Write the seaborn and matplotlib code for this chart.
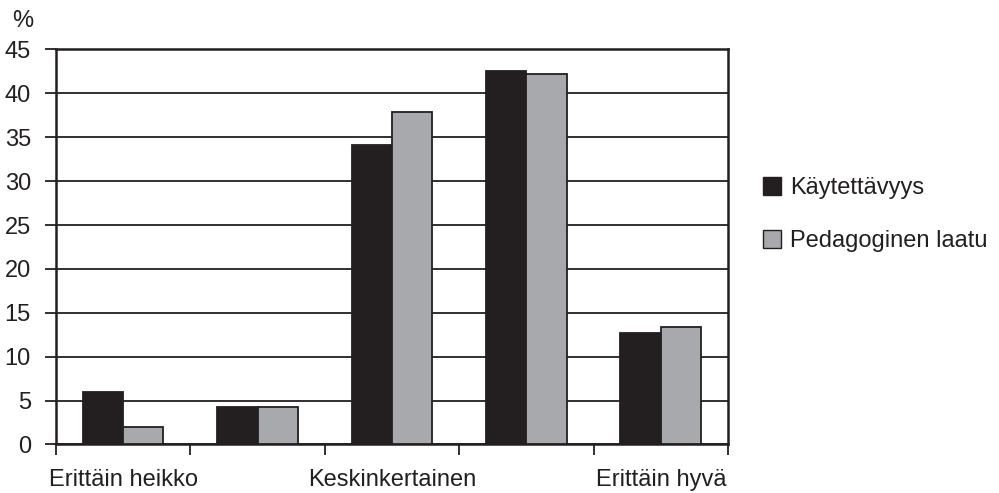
import matplotlib
matplotlib.use("Agg")
import matplotlib.pyplot as plt
import seaborn as sns
import pandas as pd
import numpy as np
from matplotlib.patches import Patch

categories = ["Erittäin heikko", "2", "Keskinkertainen", "4", "Erittäin hyvä"]
tick_labels = ["Erittäin heikko", "", "Keskinkertainen", "", "Erittäin hyvä"]
series_names = ["Käytettävyys", "Pedagoginen laatu"]
kaytettavyys = [6.0, 4.3, 34.1, 42.6, 12.7]
pedagoginen = [2.0, 4.3, 37.9, 42.2, 13.4]
y_ticks = [0, 5, 10, 15, 20, 25, 30, 35, 40, 45]

df = pd.DataFrame({
    "luokka": categories * 2,
    "sarja": [series_names[0]] * len(categories) + [series_names[1]] * len(categories),
    "arvo": kaytettavyys + pedagoginen,
})

sns.set_style("white")
plt.rcParams["font.family"] = ["Liberation Sans", "DejaVu Sans"]

FS = 17
fig = plt.figure(figsize=(9.99, 4.93), dpi=100)
ax = fig.add_axes([0.056, 0.0984, 0.6727, 0.8012])

ink = "#231f20"
palette = {series_names[0]: "#231f20", series_names[1]: "#a7a9ac"}

sns.barplot(data=df, x="luokka", y="arvo", hue="sarja", order=categories,
            hue_order=series_names, palette=palette, width=0.6,
            edgecolor=ink, linewidth=1.3, saturation=1, ax=ax, legend=False,
            zorder=3)

ax.set_ylim(0, 45)
ax.set_xlim(-0.5, len(categories) - 0.5)
ax.set_yticks(y_ticks)
ax.set_yticklabels([str(v) for v in y_ticks], fontsize=FS, color=ink)
ax.yaxis.grid(True, color=ink, linewidth=1.3, zorder=0)
ax.set_axisbelow(True)

# category boundaries carry the x ticks; labels sit at category centres
ax.set_xticks(np.arange(-0.5, len(categories), 1.0))
ax.set_xticklabels([])
ax.set_xticks(np.arange(len(categories)), minor=True)
ax.set_xticklabels(tick_labels, minor=True, fontsize=FS, color=ink)
ax.tick_params(axis="x", which="major", direction="out", length=8, width=1.3,
               color=ink, bottom=True)
ax.tick_params(axis="x", which="minor", length=0, pad=18)
ax.tick_params(axis="y", direction="out", length=8, width=1.3, color=ink,
               left=True, pad=10)

ax.set_xlabel("")
ax.set_ylabel("")
for side in ["left", "bottom", "right", "top"]:
    ax.spines[side].set_visible(True)
    ax.spines[side].set_color(ink)
    ax.spines[side].set_linewidth(1.8)

fig.text(0.012, 0.958, "%", fontsize=FS, color=ink, ha="left", va="center")

handles = [Patch(facecolor=palette[n], edgecolor=ink, linewidth=1.0) for n in series_names]
fig.legend(handles, series_names, loc="center left", bbox_to_anchor=(0.742, 0.565),
           frameon=False, fontsize=FS, handlelength=0.78, handleheight=0.78,
           handletextpad=0.4, labelspacing=1.32, labelcolor=ink)

fig.savefig("out.png", dpi=100)
